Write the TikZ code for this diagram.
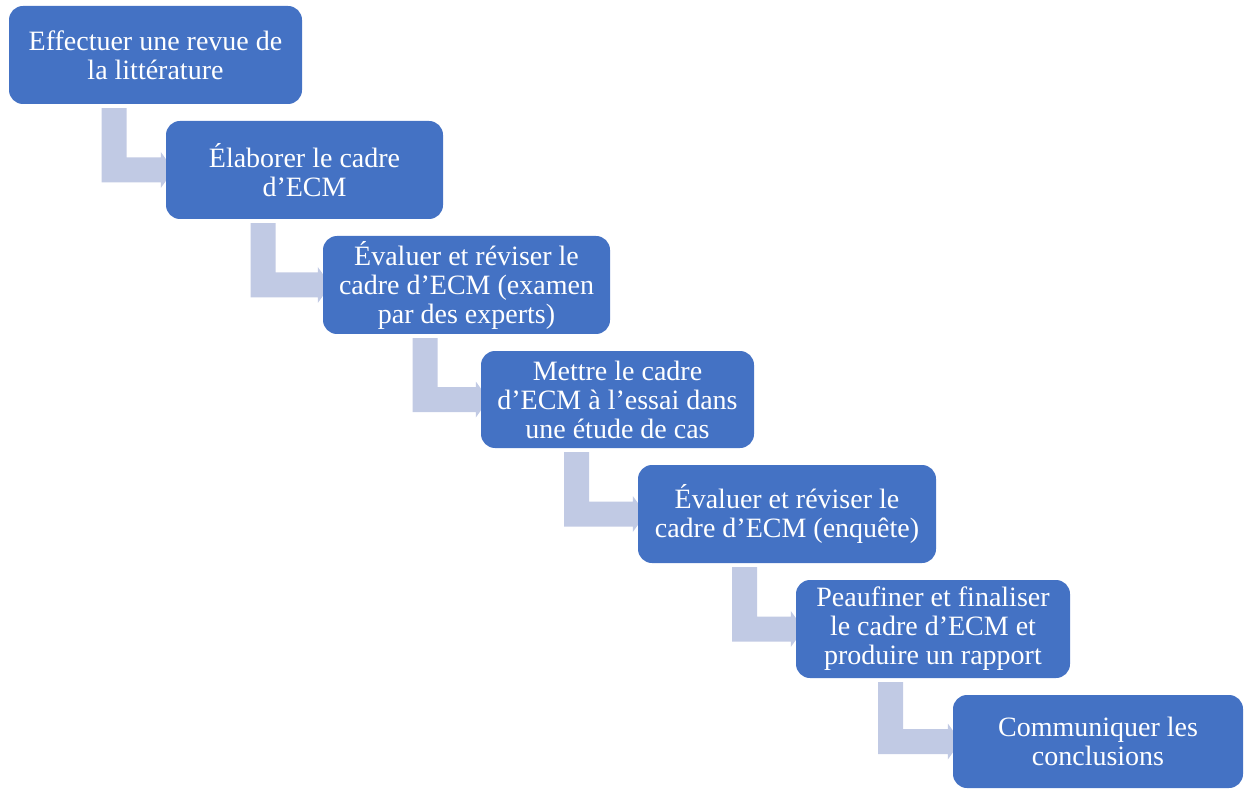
\documentclass[tikz,border=0pt]{standalone}
\usepackage{fontspec}
\setmainfont{Liberation Serif}
\usetikzlibrary{calc}
\definecolor{boxblue}{HTML}{4472C4}
\definecolor{connblue}{HTML}{C1CAE4}
\pgfdeclarelayer{bg}
\pgfsetlayers{bg,main}
\tikzset{
  stepbox/.style={fill=boxblue, draw=none, rounded corners=14pt, text=white,
    align=center, inner sep=0pt, font=\fontsize{28}{29}\selectfont},
  connfill/.style={fill=connblue, draw=none}
}
% #1 from node, #2 to node, #3 x-centre of the vertical bar
\newcommand\stepconn[3]{%
  \fill[connfill]
    ($(#1.south -| #3,0)+(-12.5,4)$) -- ($(#1.south -| #3,0)+(12.5,4)$)
    -- ($(#2.west -| #3,0)+(12.5,-12.5)$)
    -- ($(#2.west)+(-5,-12.5)$) -- ($(#2.west)+(-5,-18)$)
    -- ($(#2.west)+(8,0)$)
    -- ($(#2.west)+(-5,18)$) -- ($(#2.west)+(-5,12.5)$)
    -- ($(#2.west -| #3,0)+(-12.5,12.5)$) -- cycle;}
\begin{document}
\begin{tikzpicture}[x=1pt,y=-1pt]
\useasboundingbox (0,0) rectangle (1244,791);
\node[stepbox, minimum width=293pt, minimum height=98pt] (b1) at (155.5,55) {Effectuer une revue de\\la littérature};
\node[stepbox, minimum width=277pt, minimum height=98pt] (b2) at (304.5,170) {Élaborer le cadre\\d’ECM};
\node[stepbox, minimum width=287pt, minimum height=98pt] (b3) at (466.5,285) {Évaluer et réviser le\\cadre d’ECM (examen\\par des experts)};
\node[stepbox, minimum width=273pt, minimum height=97pt] (b4) at (617.5,399.5) {Mettre le cadre\\d’ECM à l’essai dans\\une étude de cas};
\node[stepbox, minimum width=298pt, minimum height=98pt] (b5) at (787,514) {Évaluer et réviser le\\cadre d’ECM (enquête)};
\node[stepbox, minimum width=274pt, minimum height=98pt] (b6) at (933,629) {Peaufiner et finaliser\\le cadre d’ECM et\\produire un rapport};
\node[stepbox, minimum width=290pt, minimum height=93pt] (b7) at (1098,741.5) {Communiquer les\\conclusions};
\begin{pgfonlayer}{bg}
\stepconn{b1}{b2}{114}
\stepconn{b2}{b3}{263}
\stepconn{b3}{b4}{425}
\stepconn{b4}{b5}{576.5}
\stepconn{b5}{b6}{744.5}
\stepconn{b6}{b7}{890.5}
\end{pgfonlayer}
\end{tikzpicture}
\end{document}
